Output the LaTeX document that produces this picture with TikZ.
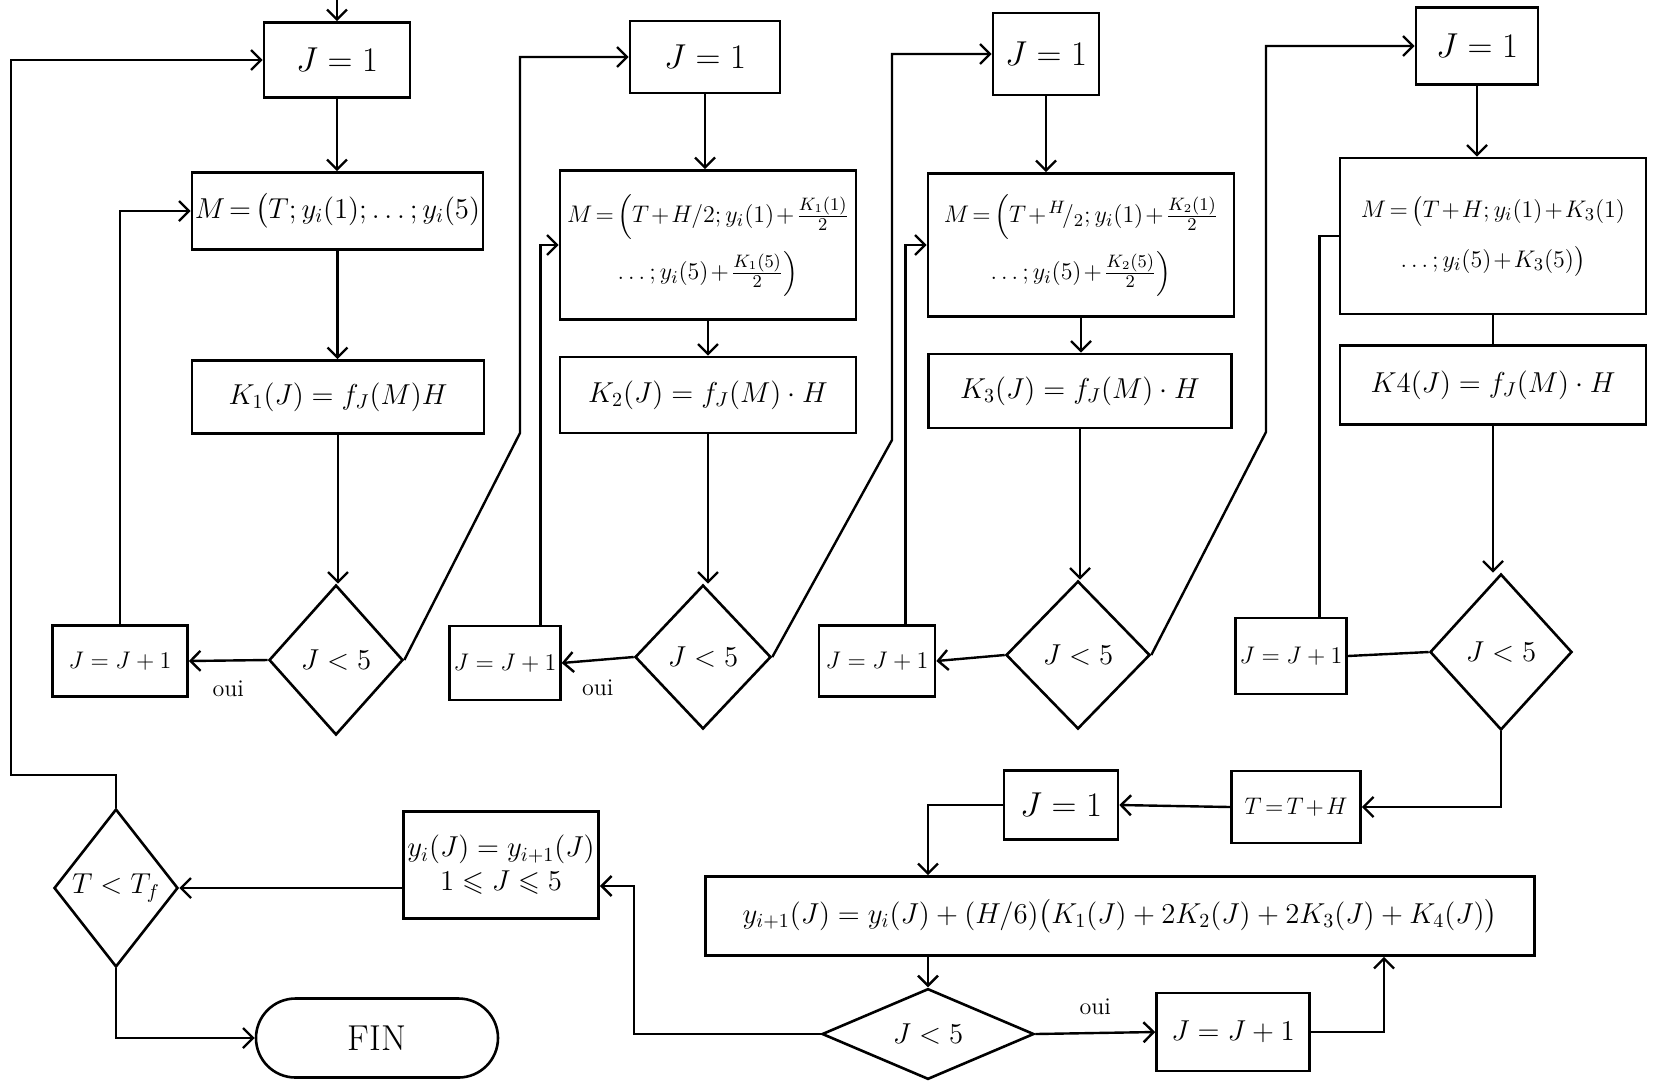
\documentclass[tikz,border=0pt]{standalone}
\usepackage{amsmath,amssymb}
\usetikzlibrary{arrows.meta,positioning,shapes.geometric,shapes.misc,calc}

\newcommand{\tightmath}{\medmuskip=1.5mu\relax\thickmuskip=2.5mu\relax}

\begin{document}
\begin{tikzpicture}[
  x=0.5pt, y=-0.5pt,
  >={Straight Barb[length=5pt,width=10pt]},
  line width=1.2pt,
  font=\fontsize{14}{17}\selectfont,
  box/.style={rectangle, draw, line width=1.3pt, inner sep=2pt, align=center},
  mbox/.style={box, inner sep=1pt, font=\fontsize{12.5}{16}\selectfont\tightmath},
  test/.style={diamond, draw, line width=1.3pt, inner sep=0pt, aspect=1},
  term/.style={rounded rectangle, draw, line width=1.3pt, inner sep=2pt,
    font=\fontsize{18}{21}\selectfont},
  sz/.style 2 args={minimum width=#1pt, minimum height=#2pt},
  big/.style={font=\fontsize{17}{20}\selectfont},
  inc/.style={box, font=\fontsize{12}{14}\selectfont},
  lbl/.style={font=\fontsize{12}{14}\selectfont}
]
\useasboundingbox (0,0) rectangle (1657,1088);

% first stage : K1
\node[box, big, sz={73}{37.5}] (j1a) at (337,60) {$J=1$};
\node[mbox, sz={145.5}{38.5}, font=\fontsize{14.5}{17}\selectfont\tightmath] (m1)
  at (337.5,211) {$M=\bigl(T;y_i(1);\dots;y_i(5)$};
\node[box, sz={146}{36.5}] (k1) at (338,397) {$K_1(J)=f_J(M)H$};
\node[test, sz={67}{75}] (d1) at (336,660) {$J<5$};
\node[inc, sz={67.5}{35.5}] (inc1) at (120,661) {$J=J+1$};

% second stage : K2
\node[box, big, sz={75}{36}] (j1b) at (705,57) {$J=1$};
\node[mbox, sz={148}{74.5}] (m2) at (708,245)
  {$M=\Bigl(T+H/2;y_i(1)+\frac{K_1(1)}{2}$\\[5pt] $\dots;y_i(5)+\frac{K_1(5)}{2}\Bigr)$};
\node[box, sz={148}{38}] (k2) at (708,395) {$K_2(J)=f_J(M)\cdot H$};
\node[test, sz={68}{72}] (d2) at (703,657) {$J<5$};
\node[inc, sz={54.5}{37}] (inc2) at (505,663) {$J=J+1$};

% third stage : K3
\node[box, big, sz={53}{41}] (j1c) at (1046,54) {$J=1$};
\node[mbox, sz={153}{71.5}] (m3) at (1081,245)
  {$M=\Bigl(T+{}^{H}\!/_{2};y_i(1)+\frac{K_2(1)}{2}$\\[5pt] $\dots;y_i(5)+\frac{K_2(5)}{2}\Bigr)$};
\node[box, sz={151.5}{37}] (k3) at (1080,391) {$K_3(J)=f_J(M)\cdot H$};
\node[test, sz={72}{74}] (d3) at (1078,655) {$J<5$};
\node[inc, sz={58}{35.5}] (inc3) at (877,661) {$J=J+1$};

% fourth stage : K4
\node[box, big, sz={61}{38.5}] (j1d) at (1477,46) {$J=1$};
\node[mbox, sz={153}{78}] (m4) at (1493,236)
  {$M=\bigl(T+H;y_i(1)+K_3(1)$\\[9pt] $\dots;y_i(5)+K_3(5)\bigr)$};
\node[box, sz={153}{39.5}] (k4) at (1493,385) {$K4(J)=f_J(M)\cdot H$};
\node[test, sz={71}{78}] (d4) at (1501,652) {$J<5$};
\node[inc, sz={52.5}{38}] (inc4) at (1291,656) {$J=J+1$};

% new step
\node[box, sz={64.5}{36}, font=\fontsize{13}{16}\selectfont\tightmath] (tth)
  at (1296,807) {$T=T+H$};
\node[box, big, sz={57}{34.5}] (j1e) at (1061,805) {$J=1$};
\node[box, sz={414.5}{39.5}] (upd) at (1120,916)
  {$y_{i+1}(J)=y_i(J)+(H/6)\bigl(K_1(J)+2K_2(J)+2K_3(J)+K_4(J)\bigr)$};
\node[test, sz={106}{43}] (d5) at (928,1034) {$J<5$};
\node[box, sz={76.5}{39}] (inc5) at (1233,1032) {$J=J+1$};
\node[box, sz={91}{53.5}] (cpy) at (501,865) {$y_i(J)=y_{i+1}(J)$\\ $1\leqslant J\leqslant5$};
\node[test, sz={62}{79}] (d6) at (116,888) {$T<T_f$};
\node[term, sz={125}{39.5}] (fin) at (377,1038) {FIN};

% bends of the connectors
\coordinate (top) at (337,0);
\coordinate (kink1) at (520,433);
\coordinate (kink2) at (892,440);
\coordinate (kink3) at (1266,432);
\coordinate (ret) at (11,775);
\coordinate (back) at (634,886);
\coordinate (rise) at (1384,1032);

% straight down in each stage
\draw[->] (top) -- (j1a);
\foreach \a/\b in {j1a/m1, m1/k1, k1/d1, j1b/m2, m2/k2, k2/d2,
                   j1c/m3, m3/k3, k3/d3, j1d/m4, k4/d4} {
  \draw[->] (\a.south) -- (\a.south |- \b.north);
}
\draw (m4) -- (k4);

% J<5 -> J=J+1 and back to M
\draw[->] (d1.west) -- (inc1.east) node[lbl, midway, below=6pt] {oui};
\draw[->] (d2.west) -- (inc2.east) node[lbl, midway, below=6pt] {oui};
\draw[->] (d3.west) -- (inc3.east);
\draw (d4.west) -- (inc4.east);
\draw[->] (inc1.north) |- (m1.west);
\draw[->] ($(inc2.north east)+(-21,0)$) |- (m2.west);
\draw[->] ($(inc3.north east)+(-31,0)$) |- (m3.west);
\draw ($(inc4.north east)+(-28,0)$) |- (m4.west);

% next stage
\draw[->] (d1.east) -- (kink1) |- (j1b.west);
\draw[->] (d2.east) -- (kink2) |- (j1c.west);
\draw[->] (d3.east) -- (kink3) |- (j1d.west);

% update of y
\draw[->] (d4.south) |- (tth.east);
\draw[->] (tth.west) -- (j1e.east);
\draw[->] (j1e.west) -| (upd.north -| d5.north);
\draw[->] (upd.south -| d5.north) -- (d5.north);
\draw[->] (d5.east) -- (inc5.west) node[lbl, midway, above=5pt] {oui};
\draw[->] (inc5.east) -| (upd.south -| rise);
\draw[->] (d5.west) -| (back) -- (back -| cpy.east);
\draw[->] (d6.east -| cpy.west) -- (d6.east);
\draw[->] (d6.south) |- (fin.west);
\draw[->] (d6.north) |- (ret) |- (j1a.west);

\end{tikzpicture}
\end{document}
